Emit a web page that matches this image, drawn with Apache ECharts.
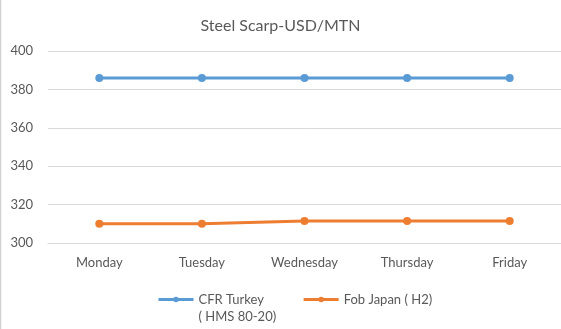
<!DOCTYPE html>
<html>
<head>
<meta charset="utf-8">
<script src="https://cdn.jsdelivr.net/npm/echarts@6/dist/echarts.min.js"></script>
<style>
  html, body { margin: 0; padding: 0; background: #fff; }
  #chart { width: 561px; height: 329px; }
</style>
</head>
<body>
<div id="chart"></div>
<script>
// Weekly steel scrap prices, USD per metric ton
const days = ['Monday', 'Tuesday', 'Wednesday', 'Thursday', 'Friday'];
const cfrTurkey = [386, 386, 386, 386, 386];
const fobJapan = [310, 310, 311.5, 311.5, 311.5];
const seriesNames = ['CFR Turkey\n( HMS 80-20)', 'Fob Japan ( H2)'];
const yTicks = { min: 300, max: 400, step: 20 };

const FONT = 'Lato, "Noto Sans", sans-serif';
const TEXT = '#595959';
const GRID = '#d9d9d9';
const BLUE = '#5b9bd5';
const ORANGE = '#ed7d31';

const chart = echarts.init(document.getElementById('chart'), null, { renderer: 'canvas' });

chart.setOption({
  backgroundColor: '#ffffff',
  animation: false,
  textStyle: { fontFamily: FONT },
  title: {
    text: 'Steel Scarp-USD/MTN',
    left: 'center',
    top: 13,
    textStyle: { fontFamily: FONT, fontSize: 16, fontWeight: 'normal', color: TEXT }
  },
  grid: { left: 48, top: 51, width: 515, bottom: 86, containLabel: false },
  xAxis: {
    type: 'category',
    data: days,
    boundaryGap: true,
    axisLine: { show: true, lineStyle: { color: GRID, width: 1 } },
    axisTick: { show: false },
    axisLabel: { color: TEXT, fontFamily: FONT, fontSize: 13, margin: 13 }
  },
  yAxis: {
    type: 'value',
    min: yTicks.min,
    max: yTicks.max,
    interval: yTicks.step,
    axisLine: { show: false },
    axisTick: { show: false },
    axisLabel: { color: TEXT, fontFamily: FONT, fontSize: 13, margin: 15 },
    splitLine: { lineStyle: { color: GRID, width: 1 } }
  },
  legend: {
    left: 152,
    top: 269,
    itemWidth: 35,
    itemHeight: 7,
    itemGap: 26,
    lineStyle: { width: 3 },
    // a blank first line keeps the wrapped name's first line level with its icon
    formatter: function (name) {
      return name.indexOf('\n') >= 0 ? '\n' + name : name;
    },
    textStyle: { color: TEXT, fontFamily: FONT, fontSize: 13, lineHeight: 17 },
    data: seriesNames
  },
  series: [
    {
      name: seriesNames[0],
      type: 'line',
      data: cfrTurkey,
      symbol: 'circle',
      symbolSize: 8,
      lineStyle: { color: BLUE, width: 3 },
      itemStyle: { color: BLUE }
    },
    {
      name: seriesNames[1],
      type: 'line',
      data: fobJapan,
      symbol: 'circle',
      symbolSize: 8,
      lineStyle: { color: ORANGE, width: 3 },
      itemStyle: { color: ORANGE }
    }
  ],
  graphic: [
    {
      type: 'line',
      shape: { x1: 0.5, y1: 0, x2: 0.5, y2: 329 },
      style: { stroke: '#d0d0d0', lineWidth: 1.5 },
      silent: true
    }
  ]
});
</script>
</body>
</html>
